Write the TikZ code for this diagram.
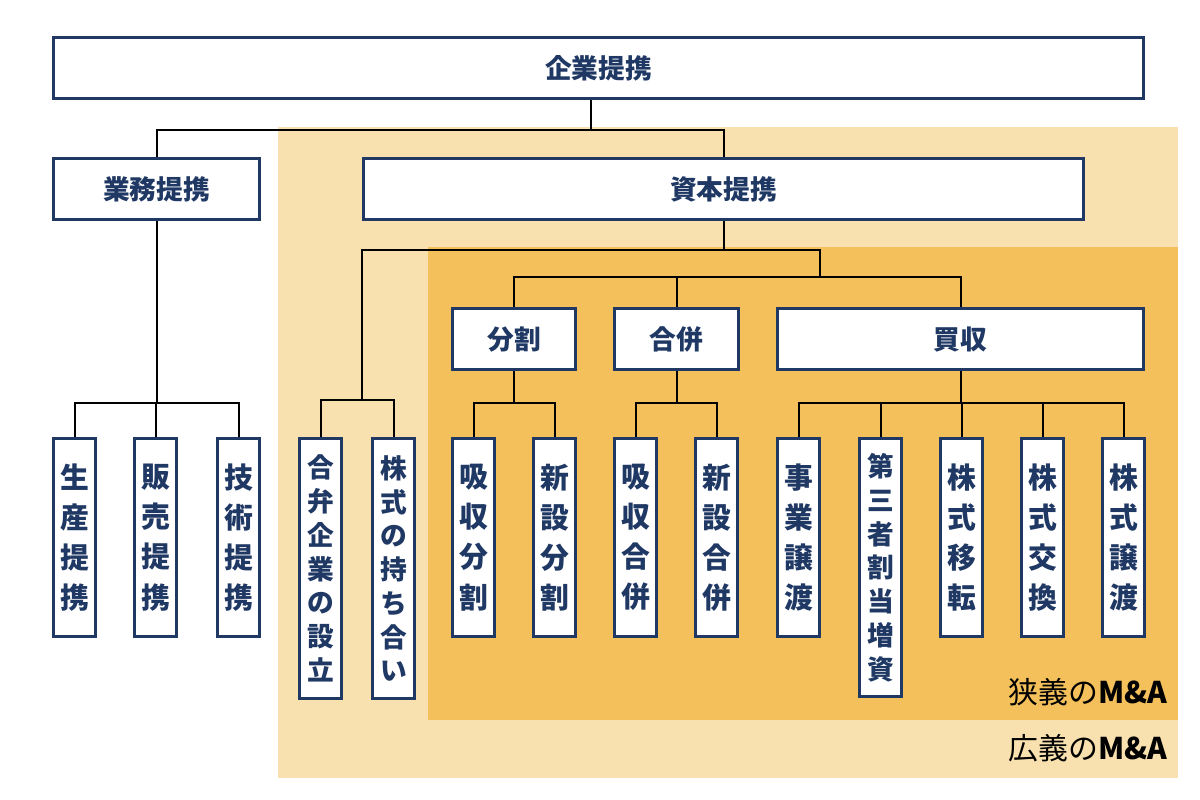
\documentclass[tikz,border=0pt]{standalone}
\usepackage{fontspec}
\setmainfont{Noto Sans CJK JP}
\usetikzlibrary{positioning}
\usepackage{xcolor}
\definecolor{wide-color}{HTML}{F9E1AF}
\definecolor{narrow-color}{HTML}{F4C05B}
\definecolor{box-color}{HTML}{1F3864}

\begin{document}
\begin{tikzpicture}[
hbox/.style={draw=box-color, line width=0.9pt, fill=white, text=box-color, font=\bfseries\fontsize{7.6}{9}\selectfont, minimum height=0.61cm, inner sep=0pt, anchor=north west},
vbox/.style={draw=box-color, line width=0.9pt, fill=white, text=box-color, font=\bfseries\fontsize{8.2}{11.4}\selectfont, align=center, text width=0.42cm, minimum height=#1, inner sep=0pt, anchor=north west},
vbox/.default=1.98cm,
vlong/.style={vbox=#1, font=\bfseries\fontsize{7.6}{9.6}\selectfont},
vlong/.default=2.60cm,
link/.style={line width=0.6pt}
]
\useasboundingbox (0,0) rectangle (12,-8);

% M&A areas
\fill[wide-color] (2.78,-1.27) rectangle (11.78,-7.78);
\fill[narrow-color] (4.28,-2.47) rectangle (11.78,-7.20);

\node(kigyo)    [hbox, minimum width=10.90cm] at (0.52,-0.36) {企業提携};
\node(gyomu)    [hbox, minimum width=2.06cm]  at (0.52,-1.57) {業務提携};
\node(shihon)   [hbox, minimum width=7.20cm]  at (3.62,-1.57) {資本提携};
\node(bunkatsu) [hbox, minimum width=1.23cm]  at (4.51,-3.07) {分割};
\node(gappei)   [hbox, minimum width=1.24cm]  at (6.13,-3.07) {合併};
\node(baishu)   [hbox, minimum width=3.66cm]  at (7.76,-3.07) {買収};

\node(seisan)  [vbox] at (0.52,-4.37) {生\\産\\提\\携};
\node(hanbai)  [vbox] at (1.33,-4.37) {販\\売\\提\\携};
\node(gijutsu) [vbox] at (2.16,-4.37) {技\\術\\提\\携};

\node(gouben)  [vlong] at (2.98,-4.37) {合\\弁\\企\\業\\の\\設\\立};
\node(mochiai) [vlong] at (3.71,-4.37) {株\\式\\の\\持\\ち\\合\\い};

\node(kbun) [vbox] at (4.51,-4.37) {吸\\収\\分\\割};
\node(sbun) [vbox] at (5.32,-4.37) {新\\設\\分\\割};
\node(kgap) [vbox] at (6.13,-4.37) {吸\\収\\合\\併};
\node(sgap) [vbox] at (6.94,-4.37) {新\\設\\合\\併};

\node(jigyo)  [vbox] at (7.76,-4.37) {事\\業\\譲\\渡};
\node(daisan) [vlong=2.58cm] at (8.58,-4.37) {第\\三\\者\\割\\当\\増\\資};
\node(iten)   [vbox] at (9.39,-4.37) {株\\式\\移\\転};
\node(koukan) [vbox] at (10.20,-4.37) {株\\式\\交\\換};
\node(jouto)  [vbox] at (11.01,-4.37) {株\\式\\譲\\渡};

\coordinate(ma) at (8.20,-2.77);
\coordinate(alliance) at (3.62,-4.00);

\draw[link] ([xshift=-0.08cm]kigyo.south) -- ++(0,-0.30) -| (gyomu.north);
\draw[link] ([xshift=-0.08cm]kigyo.south) -- ++(0,-0.30) -| (shihon.north);

\foreach \c in {seisan, hanbai, gijutsu}
  \draw[link] (gyomu.south) -- ++(0,-1.82) -| (\c.north);

\draw[link] (shihon.south) -- ++(0,-0.29) -| (ma);
\draw[link] (shihon.south) -- ++(0,-0.29) -| (alliance);
\draw[link] (alliance) -| (gouben.north);
\draw[link] (alliance) -| (mochiai.north);

\foreach \c in {bunkatsu, gappei, baishu}
  \draw[link] (ma) -| (\c.north);

\draw[link] (bunkatsu.south) -- ++(0,-0.32) -| (kbun.north);
\draw[link] (bunkatsu.south) -- ++(0,-0.32) -| (sbun.north);
\draw[link] (gappei.south) -- ++(0,-0.32) -| (kgap.north);
\draw[link] (gappei.south) -- ++(0,-0.32) -| (sgap.north);
\foreach \c in {jigyo, daisan, iten, koukan, jouto}
  \draw[link] (baishu.south) -- ++(0,-0.32) -| (\c.north);

\node(narrow) [anchor=base east, inner sep=0pt, font=\fontsize{8.5}{10}\selectfont] at (11.68,-7.04) {狭義の{\bfseries M\&A}};
\node(wide)   [anchor=base east, inner sep=0pt, font=\fontsize{8.5}{10}\selectfont] at (11.68,-7.60) {広義の{\bfseries M\&A}};

\end{tikzpicture}
\end{document}
